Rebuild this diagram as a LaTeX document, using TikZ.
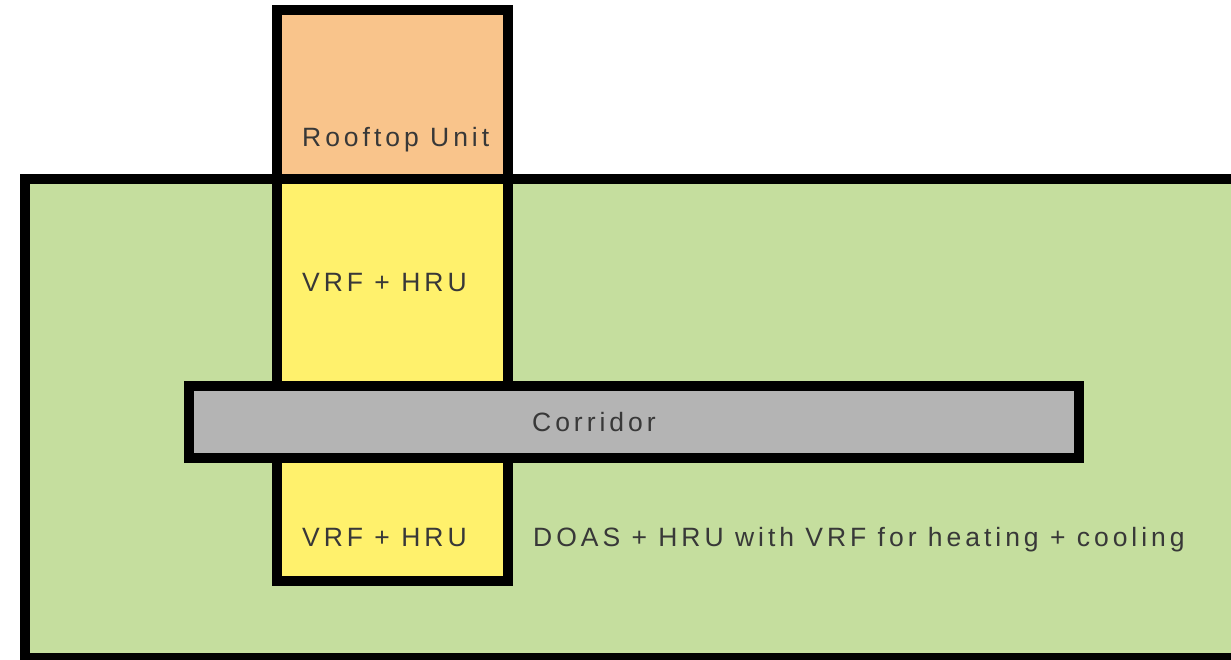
\documentclass[tikz,border=0pt]{standalone}
\usepackage{fontspec}
\setmainfont{Liberation Sans}[LetterSpace=15]
\definecolor{zonegreen}{HTML}{C5DE9E}
\definecolor{shaftyellow}{HTML}{FFF16C}
\definecolor{rooforange}{HTML}{F9C48B}
\definecolor{corrgray}{HTML}{B4B4B4}
\definecolor{labelink}{HTML}{383838}
\tikzset{
  wall/.style={draw=black, line width=10pt, line join=miter},
  label/.style={inner sep=0pt, text=labelink, font=\fontsize{26.5}{31}\selectfont},
}
\begin{document}
\begin{tikzpicture}[x=1pt, y=-1pt]
  \useasboundingbox (0,0) rectangle (1231,660);
  \fill[white] (0,0) rectangle (1231,660);
  \clip (0,0) rectangle (1231,660);
  % floor zone (runs past the right and lower edges)
  \path[wall, fill=zonegreen] (25,179) rectangle (1260,658);
  % rooftop unit above the roof line
  \path[wall, fill=rooforange] (277,10) rectangle (508,179);
  % vertical shaft with VRF + HRU
  \path[wall, fill=shaftyellow] (277,179) rectangle (508,581);
  % corridor crossing the shaft
  \path[wall, fill=corrgray] (189,386) rectangle (1079,458);
  % labels
  \node[label, anchor=base west] (roof) at (302,147) {Rooftop Unit};
  \node[label, anchor=base west] (vrfA) at (302,291) {VRF + HRU};
  \node[label, anchor=base west] (corr) at (532,431) {Corridor};
  \node[label, anchor=base west] (vrfB) at (302,546) {VRF + HRU};
  \node[label, anchor=base west] (doas) at (533,546) {DOAS + HRU with VRF for heating + cooling};
\end{tikzpicture}
\end{document}
